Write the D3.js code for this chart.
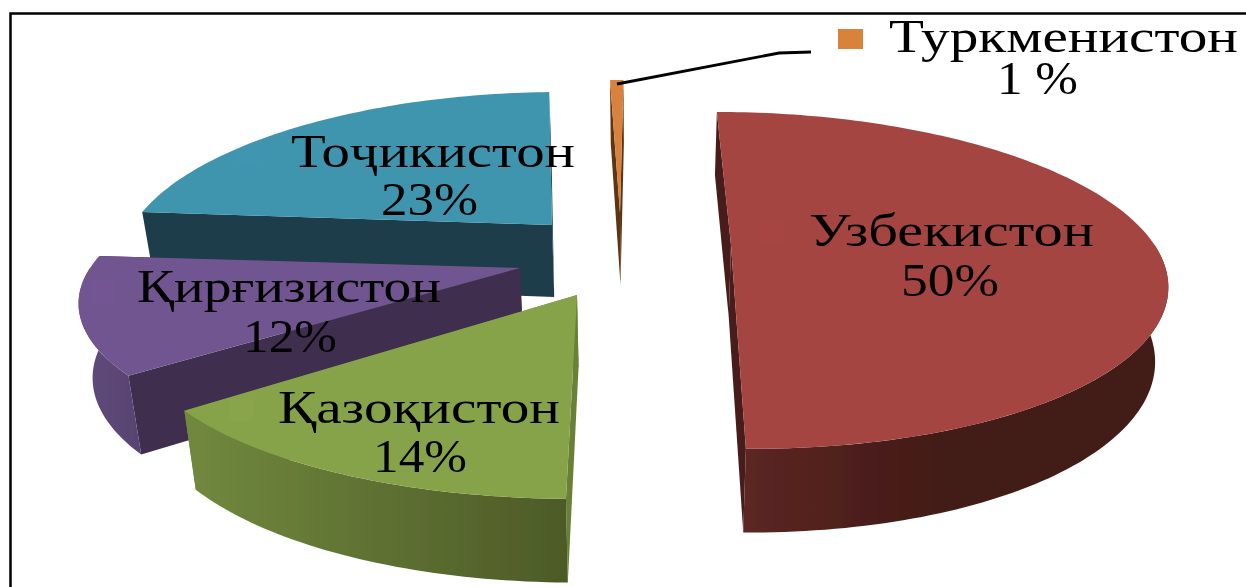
<!DOCTYPE html>
<html>
<head>
<meta charset="utf-8">
<script src="https://cdn.jsdelivr.net/npm/d3@7"></script>
<style>
	html, body { margin: 0; padding: 0; background: #fff; overflow: hidden; }
	svg { display: block; }
	text { font-family: "Liberation Serif", "DejaVu Serif", serif; fill: #000; }
</style>
</head>
<body>
<div id="chart"></div>
<script>
// shares are estimated from the slice sizes, the printed 1 % slice is visibly thinner than 1%
const countries = ['Узбекистон', 'Қазоқистон', 'Қирғизистон', 'Тоҷикистон', 'Туркменистон'];
const shares = [50, 14, 12, 23, 0.6];
const shareLabels = ['50%', '14%', '12%', '23%', '1 %'];

const width = 1246, height = 587;
const topColors = ['#a54442', '#87a34a', '#715591', '#4095ae', '#d9823c'];
const sideColors = [
	['#5c2622', '#431a17'],
	['#71893e', '#4d5a27'],
	['#604b7c', '#574370'],
	['#1b3c48', '#1b3c48'],
	['#7a4a20', '#5c3612']
];
const radialColors = ['#4a1f1c', '#6a8038', '#3f2e4f', '#1b3c48', '#5c3612'];

// perspective of the tilted pie
const radiusX = 430, radiusY = 161, nearScale = 0.21, depth = 72, depthScale = 0.14, vanishX = 640, lowerScale = 0.975;

// exploded position of each slice, and where its label sits
const layout = {
	'Узбекистон':   {ax: 731, ay: 245, r: 0.985, ry: 1, lean: -2, name: [809, 246, 285], value: [901, 296, 98], key: [760, 222, 25, 21]},
	'Қазоқистон':   {ax: 577, ay: 295, r: 1.01, ry: 1, lean: 10, name: [278, 423, 282], value: [373, 472, 94], key: [229, 399, 24, 22]},
	'Қирғизистон':  {ax: 520, ay: 268, r: 1, ry: 0.93, lean: 18, name: [137, 302, 304], value: [243, 352, 94], key: [90, 281, 24, 22]},
	'Тоҷикистон':   {ax: 552, ay: 225, r: 0.975, ry: 1, lean: 6, name: [291, 167, 284], value: [381, 215, 97], key: [238, 144, 24, 22]},
	'Туркменистон': {ax: 620, ay: 213, r: 1, ry: 1, lean: 0, name: [889, 52, 349], value: [997, 94, 81], key: [838, 29, 25, 20]}
};

const drawOrder = ['Туркменистон', 'Тоҷикистон', 'Узбекистон', 'Қирғизистон', 'Қазоқистон'];

const color = d3.scaleOrdinal().domain(countries).range(topColors);
const pie = d3.pie().sort(null).value((d, i) => shares[i]);
const arcs = pie(countries);

function lower(x) {
	return vanishX + (x - vanishX) * lowerScale;
}

function project(slice, angle, lowered) {
	var yUnit = -Math.cos(angle), xUnit = Math.sin(angle);
	var w = 1 / (1 - nearScale * yUnit);
	var x = vanishX + (slice.ax - vanishX + radiusX * slice.r * xUnit + slice.lean * yUnit) * w;
	var y = slice.ay + radiusY * slice.ry * yUnit * w;
	if (lowered) {
		x = lower(x);
		y += depth / (1 - depthScale * yUnit);
	}
	return [x, y];
}

function apex(slice, lowered) {
	return lowered ? [lower(slice.ax), slice.ay + depth] : [slice.ax, slice.ay];
}

function rim(slice, a0, a1, lowered) {
	var steps = Math.max(2, Math.ceil((a1 - a0) / 0.02));
	return d3.range(steps + 1).map(i => project(slice, a0 + (a1 - a0) * i / steps, lowered));
}

const line = d3.line();
const closed = pts => line(pts) + 'Z';

const svg = d3.select('#chart').append('svg')
	.attr('width', width)
	.attr('height', height);

const defs = svg.append('defs');
defs.append('filter').attr('id', 'soft')
	.attr('x', '-5%').attr('y', '-20%').attr('width', '110%').attr('height', '140%')
	.append('feGaussianBlur').attr('stdDeviation', 0.6);
defs.append('filter').attr('id', 'edge')
	.append('feGaussianBlur').attr('stdDeviation', 0.5);

svg.append('rect').attr('width', width).attr('height', height).attr('fill', '#fff');

// frame, only top and left survive the crop
svg.append('path')
	.attr('d', 'M10.5,587V13.5H1246')
	.attr('fill', 'none')
	.attr('stroke', '#000')
	.attr('stroke-width', 2.5);

const slices = svg.append('g').attr('filter', 'url(#edge)');

drawOrder.forEach(name => {
	var i = countries.indexOf(name);
	var d = arcs[i];
	var slice = layout[name];
	var g = slices.append('g').attr('class', 'slice');

	var gradId = 'side-' + i;
	var grad = defs.append('linearGradient').attr('id', gradId);
	grad.append('stop').attr('offset', '0%').attr('stop-color', sideColors[i][0]);
	grad.append('stop').attr('offset', i == 0 ? '45%' : '100%').attr('stop-color', sideColors[i][1]);

	// outer wall, only the part that faces the viewer
	var from = Math.max(d.startAngle, Math.PI / 2), to = Math.min(d.endAngle, 1.5 * Math.PI);
	if (from < to) {
		var wallTop = rim(slice, from, to, false);
		var wallLow = rim(slice, from, to, true).reverse();
		g.append('path')
			.attr('d', closed(wallTop.concat(wallLow)))
			.attr('fill', 'url(#' + gradId + ')');
	}

	// cut faces, the farther one first
	[d.startAngle, d.endAngle]
		.sort((a, b) => Math.cos(b) - Math.cos(a))
		.forEach(a => {
			g.insert('path', ':first-child')
				.attr('d', closed([apex(slice, false), project(slice, a, false), project(slice, a, true), apex(slice, true)]))
				.attr('fill', radialColors[i]);
		});

	// top face
	g.append('path')
		.attr('d', closed([apex(slice, false)].concat(rim(slice, d.startAngle, d.endAngle, false))))
		.attr('fill', color(name));
});

// legend keys, barely visible on the slices
countries.forEach((name, i) => {
	var k = layout[name].key;
	svg.append('rect')
		.attr('x', k[0]).attr('y', k[1])
		.attr('width', k[2]).attr('height', k[3])
		.attr('fill', i == 4 ? color(name) : d3.color(color(name)).brighter(0.6))
		.attr('opacity', i == 4 ? 1 : 0.05);
});

// leader of the smallest slice
svg.append('path')
	.attr('d', line([[617, 84], [779, 53], [811, 52]]))
	.attr('fill', 'none')
	.attr('stroke', '#000')
	.attr('stroke-width', 2.8);

const labels = svg.append('g').attr('filter', 'url(#soft)');
countries.forEach((name, i) => {
	var l = layout[name];
	labels.append('text')
		.attr('x', l.name[0]).attr('y', l.name[1])
		.attr('font-size', 46)
		.attr('textLength', l.name[2]).attr('lengthAdjust', 'spacingAndGlyphs')
		.text(name);
	labels.append('text')
		.attr('x', l.value[0]).attr('y', l.value[1])
		.attr('font-size', 46)
		.attr('textLength', l.value[2]).attr('lengthAdjust', 'spacingAndGlyphs')
		.text(shareLabels[i]);
});
</script>
</body>
</html>
